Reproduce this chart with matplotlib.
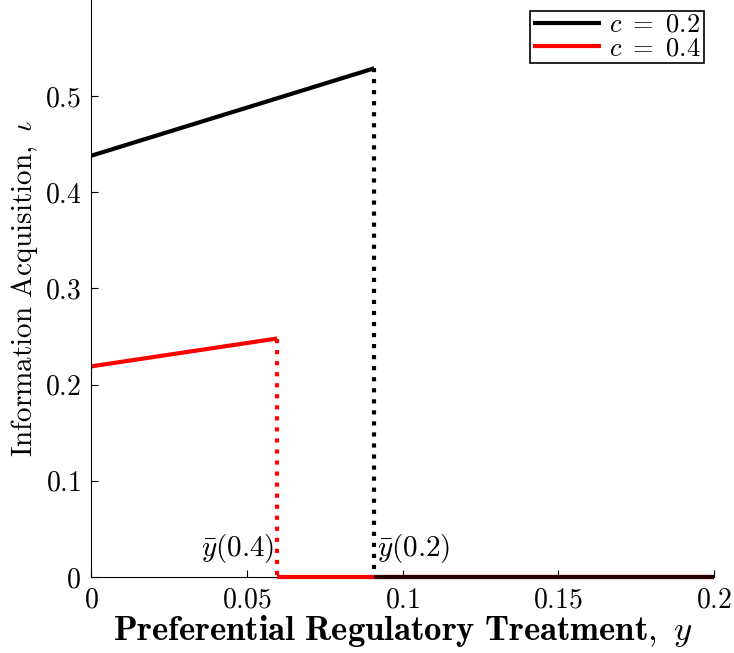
import numpy as np
import matplotlib
matplotlib.use("Agg")
import matplotlib.pyplot as plt
from matplotlib.ticker import FuncFormatter

plt.rcParams['mathtext.fontset'] = 'cm'
plt.rcParams['font.family'] = 'serif'
plt.rcParams['font.serif'] = ['cmr10', 'DejaVu Serif']
plt.rcParams['axes.unicode_minus'] = False

# threshold values ybar(c) and the acquisition lines
c_vals = [0.2, 0.4]
ybar = [0.0909, 0.0597]
iota_start = [0.438, 0.219]
iota_end = [0.529, 0.248]
colors = ['black', 'red']
x_max = 0.2

xticks = [0, 0.05, 0.1, 0.15, 0.2]
yticks = [0, 0.1, 0.2, 0.3, 0.4, 0.5]

fig = plt.figure(figsize=(7.34, 6.53), dpi=100)
ax = fig.add_axes([0.124, 0.1164, 0.849, 0.8836])

lw = 3
# red first so the black zero segment lies over it
for i in [1, 0]:
    col = colors[i]
    ax.plot([0, ybar[i]], [iota_start[i], iota_end[i]], color=col, lw=lw,
            label=r'$c\ =\ %g$' % c_vals[i], solid_capstyle='butt')
    ax.plot([ybar[i], ybar[i]], [iota_end[i], 0], color=col, lw=lw, ls=':')
    ax.plot([ybar[i], x_max], [0, 0], color=col, lw=lw, alpha=0.85 if i == 0 else 1,
            solid_capstyle='butt', clip_on=False, zorder=3)

ax.text(ybar[1] - 0.001, 0.012, r'$\bar{y}(0.4)$', ha='right', va='bottom', fontsize=21)
ax.text(ybar[0] + 0.001, 0.012, r'$\bar{y}(0.2)$', ha='left', va='bottom', fontsize=21)

ax.set_xlim(0, x_max)
ax.set_ylim(0, 0.6)
ax.set_xticks(xticks)
ax.set_yticks(yticks)
fmt = FuncFormatter(lambda v, p: r'$%g$' % v)
ax.xaxis.set_major_formatter(fmt)
ax.yaxis.set_major_formatter(fmt)
ax.tick_params(direction='in', length=5, width=0.8, labelsize=20, pad=7)
for s in ['top', 'right']:
    ax.spines[s].set_visible(False)

ax.set_xlabel(r'$\mathbf{Preferential\ Regulatory\ Treatment,}\ y$', fontsize=25, labelpad=0)
ax.set_ylabel(r'$\mathrm{Information\ Acquisition,}\ \iota$', fontsize=21, labelpad=3)

handles, labels = ax.get_legend_handles_labels()
leg = ax.legend(handles[::-1], labels[::-1], loc='upper right', fontsize=19,
                fancybox=False, edgecolor='black', framealpha=1,
                handlelength=2.6, handletextpad=0.3, borderpad=0.1,
                labelspacing=0.0, borderaxespad=0.4)
leg.get_frame().set_linewidth(1.2)

fig.savefig('out.png', dpi=100)
